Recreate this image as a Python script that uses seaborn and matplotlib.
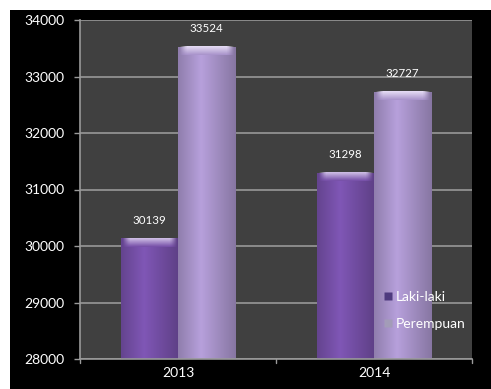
import matplotlib
matplotlib.use("Agg")
import matplotlib.pyplot as plt
import matplotlib.patches as mpatches
from matplotlib.lines import Line2D
import numpy as np
import pandas as pd
import seaborn as sns

# Population by sex and year
years = ["2013", "2014"]
series = ["Laki-laki", "Perempuan"]
laki_laki = [30139, 31298]
perempuan = [33524, 32727]
y_ticks = [28000, 29000, 30000, 31000, 32000, 33000, 34000]

colors = {"Laki-laki": "#7650a8", "Perempuan": "#a994cb"}

df = pd.DataFrame({
    "Tahun": years * 2,
    "Jenis": [series[0]] * 2 + [series[1]] * 2,
    "Jumlah": laki_laki + perempuan,
})

sns.set_theme(style="dark")
plt.rcParams["font.family"] = ["Lato", "DejaVu Sans"]

fig = plt.figure(figsize=(4.91, 3.89), dpi=100, facecolor="white")
# black card behind the chart
fig.patches.append(mpatches.Rectangle((10 / 491, 0), 1, 1 - 10 / 389,
                                      transform=fig.transFigure,
                                      facecolor="black", edgecolor="none", zorder=-5))
ax = fig.add_axes([80 / 491, 1 - 359 / 389, 392 / 491, 339 / 389])
ax.set_zorder(2)
ax.set_facecolor("#404040")

sns.barplot(data=df, x="Tahun", y="Jumlah", hue="Jenis", order=years,
            hue_order=series, palette=colors, width=0.585, gap=0.0,
            ax=ax, saturation=1, legend=False, zorder=3, linewidth=0)

ax.set_ylim(28000, 34000)
ax.set_xlim(-0.5, 1.5)
ax.set_yticks(y_ticks)
ax.set_yticklabels([str(t) for t in y_ticks], color="white", fontsize=10)
ax.set_xticks([0, 1])
ax.set_xticklabels(years, color="white", fontsize=10)
ax.tick_params(axis="x", length=0, pad=6)
ax.tick_params(axis="y", length=4, color="#9a9a9a", width=1, pad=7, left=True)
# boundary tick marks between categories
for xb in [-0.5, 0.5, 1.5]:
    ax.plot([xb, xb], [0, -0.012], transform=ax.get_xaxis_transform(),
            color="#9a9a9a", lw=1, clip_on=False, zorder=5)
ax.set_xlabel("")
ax.set_ylabel("")
ax.grid(axis="y", color="#8c8c8c", lw=1.4, zorder=1)
ax.grid(axis="x", visible=False)
for s in ["top", "right"]:
    ax.spines[s].set_visible(False)
for s in ["left", "bottom"]:
    ax.spines[s].set_color("#9a9a9a")
    ax.spines[s].set_linewidth(1.2)
    ax.spines[s].set_zorder(6)

# cylinder-like shading and a soft top highlight on each bar
shade = np.concatenate([np.linspace(0.85, 1.08, 40), np.linspace(1.08, 0.8, 60)])
for p in list(ax.patches):
    x0, y0 = p.get_x(), p.get_y()
    w, h = p.get_width(), p.get_height()
    base = np.array(matplotlib.colors.to_rgb(p.get_facecolor()))
    img = np.clip(base[None, None, :] * shade[None, :, None], 0, 1)
    im = ax.imshow(img, extent=[x0, x0 + w, 28000, y0 + h], aspect="auto",
                   zorder=4, interpolation="bicubic")
    im.set_clip_path(p)
    top = y0 + h
    # highlight: fades from light at the top edge into the bar colour
    hl = np.linspace(0, 1, 12)[:, None, None]
    light = np.clip(base * 0.45 + 0.6, 0, 1)
    cap_img = base[None, None, :] * (1 - hl) + light[None, None, :] * hl
    cap_img = np.repeat(cap_img, 30, axis=1)
    cap_alpha = np.ones(cap_img.shape[:2])
    edge = np.minimum(np.linspace(0, 1, 30), np.linspace(1, 0, 30)) * 8
    cap_alpha *= np.clip(edge, 0, 1)[None, :]
    cap_rgba = np.dstack([cap_img, cap_alpha])
    ax.imshow(cap_rgba, extent=[x0 + w * 0.02, x0 + w * 0.98, top - 150, top],
              origin="lower", aspect="auto", zorder=5, interpolation="bilinear")

# value labels above the bars
for p, v in zip(ax.patches[:4], laki_laki + perempuan):
    ax.annotate(str(v), (p.get_x() + p.get_width() / 2, p.get_y() + p.get_height()),
                xytext=(0, 13), textcoords="offset points", ha="center", va="center",
                color="white", fontsize=8.3, zorder=7)
ax.set_xlim(-0.5, 1.5)
ax.set_ylim(28000, 34000)

handles = [Line2D([], [], marker="s", ls="none", markersize=6,
                  markerfacecolor=c, markeredgecolor="none") for c in
           ["#4e3a7e", "#a39cb8"]]
leg = ax.legend(handles, series, loc="lower left", bbox_to_anchor=(0.76, 0.07),
                frameon=False, fontsize=10, labelcolor="white",
                handlelength=0.6, handletextpad=0.25, labelspacing=1.05,
                borderaxespad=0)
leg.set_zorder(8)

fig.savefig("out.png", dpi=100, facecolor="white")
